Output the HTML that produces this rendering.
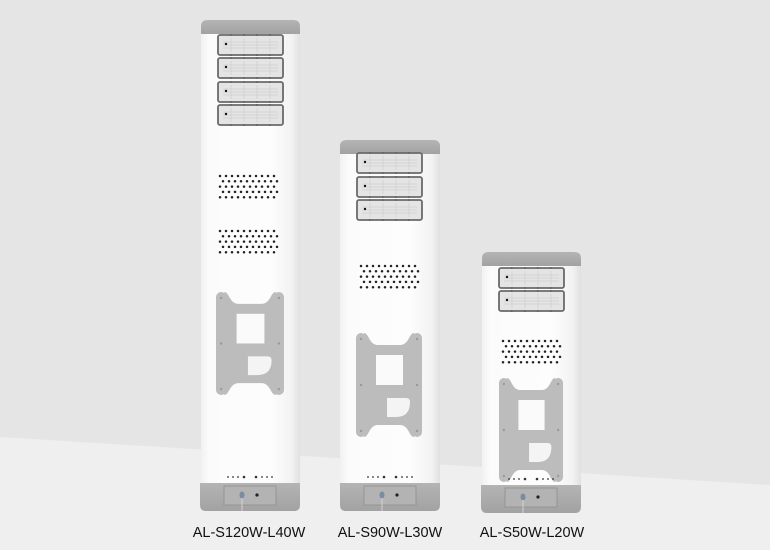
<!DOCTYPE html>
<html><head><meta charset="utf-8"><style>
html,body{margin:0;padding:0;width:770px;height:550px;overflow:hidden;background:#e5e5e5}
svg{display:block}
</style></head><body>
<svg width="770" height="550" viewBox="0 0 770 550" xmlns="http://www.w3.org/2000/svg">
<defs>
<linearGradient id="body" x1="0" x2="1" y1="0" y2="0">
<stop offset="0" stop-color="#f1f1f1"/><stop offset="0.08" stop-color="#fbfbfb"/><stop offset="0.7" stop-color="#fdfdfd"/><stop offset="0.92" stop-color="#f2f2f2"/><stop offset="1" stop-color="#e0e0e0"/>
</linearGradient>
<linearGradient id="cap" x1="0" x2="0" y1="0" y2="1">
<stop offset="0" stop-color="#b4b4b4"/><stop offset="1" stop-color="#a2a2a2"/>
</linearGradient>
<g id="led">
<rect x="1" y="1" width="65" height="20" rx="2" fill="#e4e4e4" stroke="#6a6a6a" stroke-width="1.8"/>
<g stroke="#cfcfcf" stroke-width="0.8" fill="none">
<path d="M6,8 H61 M6,11 H61 M6,14 H61"/>
<path d="M14,4 V18 M27,4 V18 M40,4 V18 M53,4 V18"/>
</g>
<g fill="#666"><rect x="13" y="0" width="1.5" height="2"/><rect x="26" y="0" width="1.5" height="2"/><rect x="39" y="0" width="1.5" height="2"/><rect x="52" y="0" width="1.5" height="2"/>
<rect x="13" y="20" width="1.5" height="2"/><rect x="26" y="20" width="1.5" height="2"/><rect x="39" y="20" width="1.5" height="2"/><rect x="52" y="20" width="1.5" height="2"/></g>
<circle cx="9" cy="10" r="1.2" fill="#111"/>
</g>
<g id="dotrow" fill="#222">
<circle cx="0" cy="0" r="1.25"/><circle cx="6" cy="0" r="1.25"/><circle cx="12" cy="0" r="1.25"/><circle cx="18" cy="0" r="1.25"/><circle cx="24" cy="0" r="1.25"/><circle cx="30" cy="0" r="1.25"/><circle cx="36" cy="0" r="1.25"/><circle cx="42" cy="0" r="1.25"/><circle cx="48" cy="0" r="1.25"/><circle cx="54" cy="0" r="1.25"/>
</g>
<g id="dots">
<use href="#dotrow" x="0" y="0"/><use href="#dotrow" x="3" y="5.3"/><use href="#dotrow" x="0" y="10.6"/><use href="#dotrow" x="3" y="15.9"/><use href="#dotrow" x="0" y="21.2"/>
</g>
<g id="bracket">
<rect x="0" y="0" width="10" height="104" rx="5" fill="#bcbcbc"/>
<rect x="56" y="0" width="10" height="104" rx="5" fill="#bcbcbc"/>
<path d="M8,0 C13,0 13,12 22,12 L44,12 C53,12 53,0 58,0 L58,104 C53,104 53,92 44,92 L22,92 C13,92 13,104 8,104 Z" fill="#bcbcbc"/>
<rect x="20" y="22" width="27" height="30" fill="#fafafa"/>
<path d="M31,65 H50 Q54,65 54,69 Q54,84 40,84 H31 Z" fill="#f4f4f4"/>
<g fill="#999"><circle cx="5" cy="6" r="1.2"/><circle cx="61" cy="6" r="1.2"/><circle cx="5" cy="52" r="1.2"/><circle cx="61" cy="52" r="1.2"/><circle cx="5" cy="98" r="1.2"/><circle cx="61" cy="98" r="1.2"/></g>
</g>
<g id="base">
<g fill="#333"><circle cx="-22" cy="-6" r="0.9"/><circle cx="-17" cy="-6" r="0.9"/><circle cx="-12" cy="-6" r="0.9"/><circle cx="-6" cy="-6" r="1.3"/><circle cx="6" cy="-6" r="1.3"/><circle cx="12" cy="-6" r="0.9"/><circle cx="17" cy="-6" r="0.9"/><circle cx="22" cy="-6" r="0.9"/></g>
<path d="M-50,0 H50 V22 Q50,28 44,28 H-44 Q-50,28 -50,22 Z" fill="url(#cap)"/>
<rect x="-26" y="3" width="52" height="19" fill="#b3b3b3" stroke="#8e8e8e" stroke-width="0.8"/>
<ellipse cx="-8" cy="12" rx="2.5" ry="3.5" fill="#7a8aa0"/>
<circle cx="7" cy="12" r="1.6" fill="#222"/>
<path d="M-8,15 V28" stroke="#ddd" stroke-width="0.8"/>
</g>
</defs>

<rect width="770" height="550" fill="#e5e5e5"/>
<path d="M0,437 L770,485 L770,550 L0,550 Z" fill="#efefef"/>

<!-- Lamp 1 -->
<rect x="201" y="26" width="99" height="460" fill="url(#body)"/>
<path d="M201,34 V26 Q201,20 208,20 H293 Q300,20 300,26 V34 Z" fill="url(#cap)"/>
<use href="#led" x="217" y="34"/>
<use href="#led" x="217" y="57"/>
<use href="#led" x="217" y="81"/>
<use href="#led" x="217" y="104"/>
<use href="#dots" x="220" y="176"/>
<use href="#dots" x="220" y="231"/>
<use href="#bracket" transform="translate(216,292) scale(1.03,0.99)"/>
<use href="#base" x="250" y="483"/>

<!-- Lamp 2 -->
<rect x="340" y="148" width="100" height="338" fill="url(#body)"/>
<path d="M340,154 V146 Q340,140 347,140 H433 Q440,140 440,146 V154 Z" fill="url(#cap)"/>
<use href="#led" x="356" y="152"/>
<use href="#led" x="356" y="176"/>
<use href="#led" x="356" y="199"/>
<use href="#dots" x="361" y="266"/>
<use href="#bracket" x="356" y="333"/>
<use href="#base" x="390" y="483"/>

<!-- Lamp 3 -->
<rect x="482" y="260" width="99" height="226" fill="url(#body)"/>
<path d="M482,266 V258 Q482,252 489,252 H574 Q581,252 581,258 V266 Z" fill="url(#cap)"/>
<use href="#led" x="498" y="267"/>
<use href="#led" x="498" y="290"/>
<use href="#dots" x="503" y="341"/>
<use href="#bracket" transform="translate(499,378) scale(0.97,1.0)"/>
<use href="#base" x="531" y="485"/>

<g font-family="Liberation Sans, Arial, sans-serif" font-size="14.5" fill="#111" text-anchor="middle">
<text x="249" y="537">AL-S120W-L40W</text>
<text x="390" y="537">AL-S90W-L30W</text>
<text x="532" y="537">AL-S50W-L20W</text>
</g>
</svg>
</body></html>
